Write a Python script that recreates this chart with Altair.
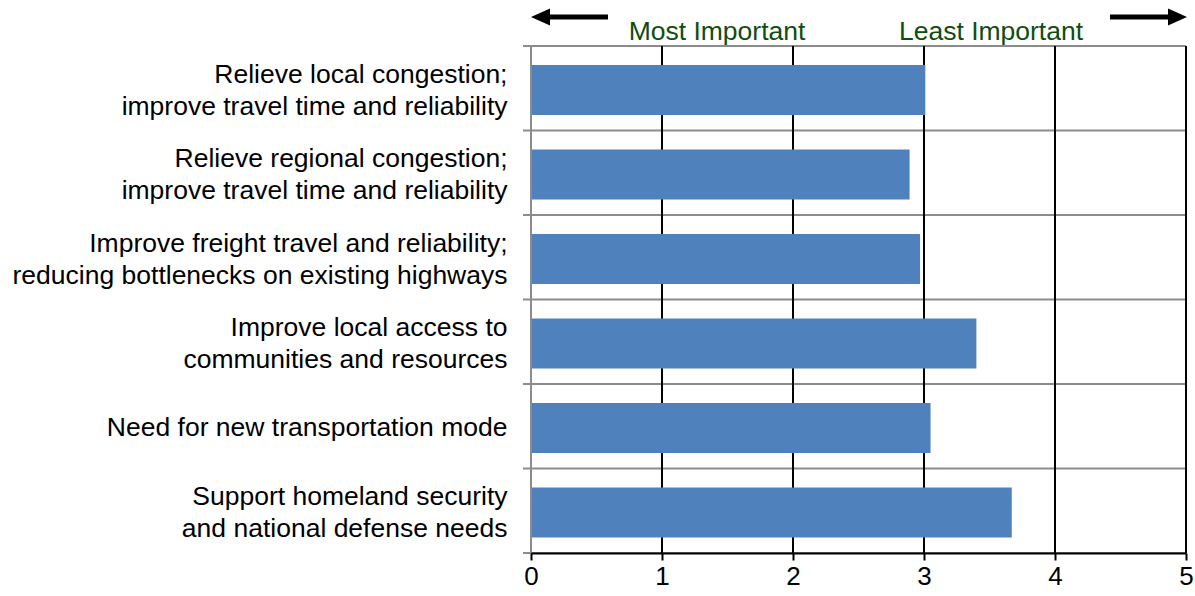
import altair as alt
import pandas as pd

# Survey results: average importance rank per transportation need (lower = more important)
categories = [
    "Relieve local congestion;|improve travel time and reliability",
    "Relieve regional congestion;|improve travel time and reliability",
    "Improve freight travel and reliability;|reducing bottlenecks on existing highways",
    "Improve local access to|communities and resources",
    "Need for new transportation mode",
    "Support homeland security|and national defense needs",
]
scores = [3.01, 2.89, 2.97, 3.40, 3.05, 3.67]

x_ticks = [0, 1, 2, 3, 4, 5]
grid_values = [1, 2, 3, 4, 5]
band_edges = [0, 1, 2, 3, 4, 5, 6]

header_left = "Most Important"
header_right = "Least Important"

W, H = 655, 507
FONT = "Liberation Sans"
BAR_BLUE = "#4f81bd"
SEP_GRAY = "#8c8c8c"
HEADER_GREEN = "#0f4d0f"

bars_df = pd.DataFrame({"category": categories, "score": scores})
grid_df = pd.DataFrame({"v": grid_values})
edges_df = pd.DataFrame({"b": band_edges})
one = pd.DataFrame({"k": [0]})

x_scale = alt.Scale(domain=[0, 5], nice=False, zero=True)

# horizontal gray separators between categories (with small outside ticks)
separators = alt.Chart(edges_df).mark_rule(color=SEP_GRAY, strokeWidth=2).encode(
    y=alt.Y("b:Q", scale=alt.Scale(domain=[0, 6], reverse=True, nice=False, zero=False), axis=None),
    x=alt.value(-8),
    x2=alt.value(W),
)

# black vertical gridlines
gridlines = alt.Chart(grid_df).mark_rule(color="black", strokeWidth=2).encode(
    x=alt.X("v:Q", scale=x_scale),
    y=alt.value(0),
    y2=alt.value(H),
)

bars = alt.Chart(bars_df).mark_bar(color=BAR_BLUE).encode(
    x=alt.X(
        "score:Q",
        scale=x_scale,
        axis=alt.Axis(
            values=x_ticks,
            format="d",
            title=None,
            grid=False,
            domainColor="black",
            domainWidth=2,
            tickColor="black",
            tickWidth=2,
            tickSize=7,
            labelFont=FONT,
            labelFontSize=26,
            labelColor="black",
            labelPadding=3,
            labelFlush=False,
            zindex=1,
        ),
    ),
    y=alt.Y(
        "category:N",
        sort=categories,
        scale=alt.Scale(paddingInner=0.41, paddingOuter=0.205, align=0.55),
        axis=alt.Axis(
            title=None,
            ticks=False,
            domain=False,
            grid=False,
            labelExpr="split(datum.label, '|')",
            labelFont=FONT,
            labelFontSize=26.5,
            labelColor="black",
            labelLineHeight=32,
            labelPadding=24,
            labelLimit=0,
            labelOffset={
                "condition": {"test": "indexof(datum.value, '|') >= 0", "value": -15},
                "value": 0,
            },
        ),
    ),
)

# gray left edge of the plot area
left_edge = alt.Chart(one).mark_rule(color=SEP_GRAY, strokeWidth=2).encode(
    x=alt.value(0), y=alt.value(0), y2=alt.value(H)
)

# header labels above the plot
txt_left = alt.Chart(one).mark_text(
    text=header_left, font=FONT, fontSize=26.5, color=HEADER_GREEN, align="center", baseline="alphabetic"
).encode(x=alt.value(186), y=alt.value(-6))
txt_right = alt.Chart(one).mark_text(
    text=header_right, font=FONT, fontSize=26.5, color=HEADER_GREEN, align="center", baseline="alphabetic"
).encode(x=alt.value(460), y=alt.value(-6))

# direction arrows
shaft_left = alt.Chart(one).mark_rule(color="black", strokeWidth=5).encode(
    x=alt.value(17), x2=alt.value(77), y=alt.value(-29)
)
head_left = alt.Chart(one).mark_point(
    shape="M-1,0L1,-0.9L1,0.9Z", filled=True, color="black", opacity=1, size=361
).encode(x=alt.value(9.5), y=alt.value(-29))
shaft_right = alt.Chart(one).mark_rule(color="black", strokeWidth=5).encode(
    x=alt.value(579), x2=alt.value(640), y=alt.value(-29)
)
head_right = alt.Chart(one).mark_point(
    shape="M1,0L-1,-0.9L-1,0.9Z", filled=True, color="black", opacity=1, size=361
).encode(x=alt.value(646.5), y=alt.value(-29))

chart = (
    alt.layer(
        separators, gridlines, bars, left_edge,
        txt_left, txt_right, shaft_left, head_left, shaft_right, head_right,
    )
    .resolve_scale(y="independent")
    .properties(
        width=W,
        height=H,
        autosize=alt.AutoSizeParams(type="none"),
        padding={"left": 531, "top": 46, "right": 9, "bottom": 43},
        background="white",
    )
    .configure_view(stroke=None)
)

chart.save("out.html", embed_options={"renderer": "svg", "actions": False})
